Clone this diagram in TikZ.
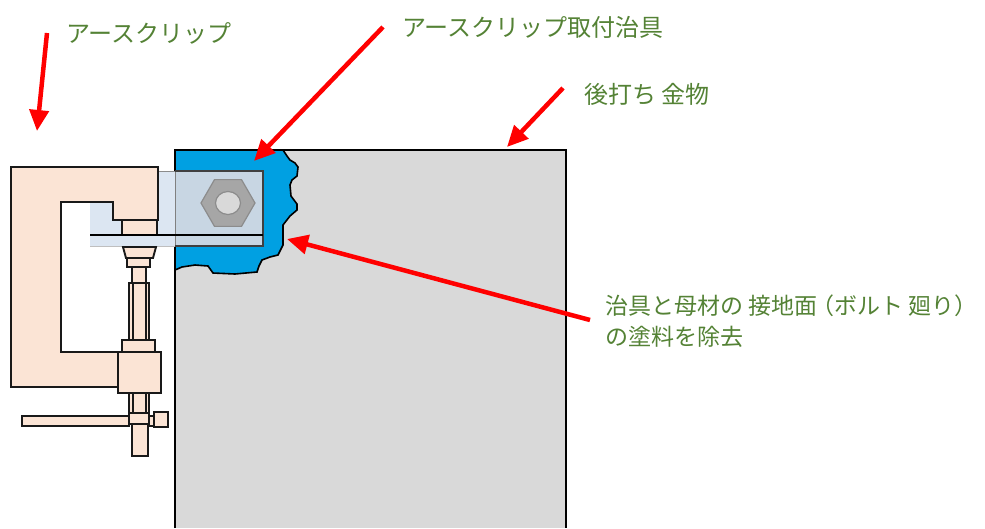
\documentclass[tikz,border=0pt]{standalone}
\usepackage{fontspec}
\newfontfamily\jpfont{Noto Sans CJK JP}
\usetikzlibrary{arrows.meta,shapes.geometric}
\definecolor{plategray}{RGB}{217,217,217}
\definecolor{paintblue}{RGB}{0,160,226}
\definecolor{jiglight}{RGB}{220,230,242}
\definecolor{jigdark}{RGB}{200,214,227}
\definecolor{peach}{RGB}{251,228,213}
\definecolor{nutgray}{RGB}{166,166,166}
\definecolor{nutedge}{RGB}{140,140,140}
\definecolor{labelgreen}{RGB}{84,130,53}
\definecolor{arrowred}{RGB}{255,0,0}
\tikzset{
  clamppart/.style={fill=peach, draw=black!90, line width=1.9pt},
  label/.style={font=\jpfont\fontsize{24}{31}\selectfont, text=labelgreen, anchor=west, inner sep=0pt, align=left},
  pointer/.style={draw=arrowred, line width=4.5pt, -{Triangle[length=21pt,width=19pt]}},
}
\begin{document}
\begin{tikzpicture}[x=1pt,y=-1pt]
\useasboundingbox (0,0) rectangle (985,528);

% post-installed steel plate
\fill[plategray] (175,150) rectangle (566,528);

% paint removed around the bolt (torn edge)
\fill[paintblue] (175,150) -- (283,150) -- (287,156) -- (290,160) -- (295,163) -- (298,167) -- (297,176)
  -- (292,180) -- (290,185) -- (291,196) -- (297,204) -- (297,210) -- (290,216) -- (283,225) -- (283,245) -- (278,255)
  -- (270,257) -- (262,260) -- (259,266) -- (257,272) -- (235,274) -- (213,273) -- (208,266) -- (195,265) -- (182,267) -- (175,270) -- cycle;
\draw[black, line width=1.6pt] (283,150) -- (287,156) -- (290,160) -- (295,163) -- (298,167) -- (297,176)
  -- (292,180) -- (290,185) -- (291,196) -- (297,204) -- (297,210) -- (290,216) -- (283,225) -- (283,245) -- (278,255)
  -- (270,257) -- (262,260) -- (259,266) -- (257,272) -- (235,274) -- (213,273) -- (208,266) -- (195,265) -- (182,267) -- (175,270);

% plate outline
\draw[black, line width=1.8pt] (175,528) -- (175,150) -- (566,150) -- (566,528);

% clip mounting jig (lower flange and bolt plate)
\fill[jiglight] (90,202) -- (158,202) -- (158,171) -- (263,171) -- (263,246) -- (90,246) -- cycle;
\fill[jigdark] (175,171) rectangle (263,246);
\draw[black!50, line width=1pt] (175,171) -- (175,246);
\draw[black!75, line width=1.4pt] (175,171) -- (263,171) -- (263,246) -- (175,246);
\draw[black!45, line width=1pt] (158,171) -- (175,171);
\draw[black!25, line width=1pt] (90,246) -- (175,246);

% bolt head
\node (nut) [draw=nutedge, fill=nutgray, line width=1.2pt, regular polygon, regular polygon sides=6,
  minimum size=54pt, inner sep=0pt, outer sep=0pt] at (228,203) {};
\fill[plategray, draw=nutedge, line width=1.2pt] (nut.center) ellipse (12.5 and 11.5);

% earth clip: C frame
\draw[clamppart] (11,167) -- (158,167) -- (158,220) -- (113,220) -- (113,202) -- (61,202)
  -- (61,352) -- (118,352) -- (118,387) -- (11,387) -- cycle;
% upper jaw pad
\draw[clamppart] (122,220) rectangle (157,235);
% thick edge of the jig flange
\draw[black, line width=2.6pt] (90,235) -- (263,235);

% screw, sleeves, collar and block
\draw[clamppart] (132,258) rectangle (146,456);
\draw[clamppart] (123,247) -- (156,247) -- (153,258) -- (126,258) -- cycle;
\draw[clamppart] (127,258) rectangle (150,267);
\draw[clamppart] (129,283) rectangle (149,340);
\draw[clamppart] (133,283) rectangle (146,340);
\draw[clamppart] (122,340) rectangle (155,352);
\draw[clamppart] (118,352) rectangle (161,393);
\draw[clamppart] (129,393) rectangle (149,414);
\draw[clamppart] (133,393) rectangle (146,414);
% handle
\draw[clamppart] (22,416) rectangle (129,426);
\draw[clamppart] (149,416) rectangle (154,426);
\draw[clamppart] (154,412) rectangle (168,427);
\draw[clamppart] (129,413) rectangle (149,424);
\draw[clamppart] (132,424) rectangle (148,456);

% labels
\node (lclip) [label] at (66,33) {アースクリップ};
\node (ljig) [label] at (402,27) {アースクリップ取付治具};
\node (lplate) [label] at (584,94) {後打ち 金物};
\node (lpaint) [label, font=\jpfont\fontsize{23}{31}\selectfont] at (605,321)
  {治具と母材の 接地面\kern-6pt（ボルト 廻り）\\の塗料を除去};

% pointer ends
\coordinate (tclip) at (47,33);
\coordinate (hclip) at (37,131);
\coordinate (tjig) at (383,27);
\coordinate (hjig) at (254,161);
\coordinate (tplate) at (563,88);
\coordinate (hplate) at (507,147);
\coordinate (tpaint) at (590,320);
\coordinate (hpaint) at (287,239);

\draw[pointer] (tclip) -- (hclip);
\draw[pointer] (tjig) -- (hjig);
\draw[pointer] (tplate) -- (hplate);
\draw[pointer] (tpaint) -- (hpaint);
\end{tikzpicture}
\end{document}
